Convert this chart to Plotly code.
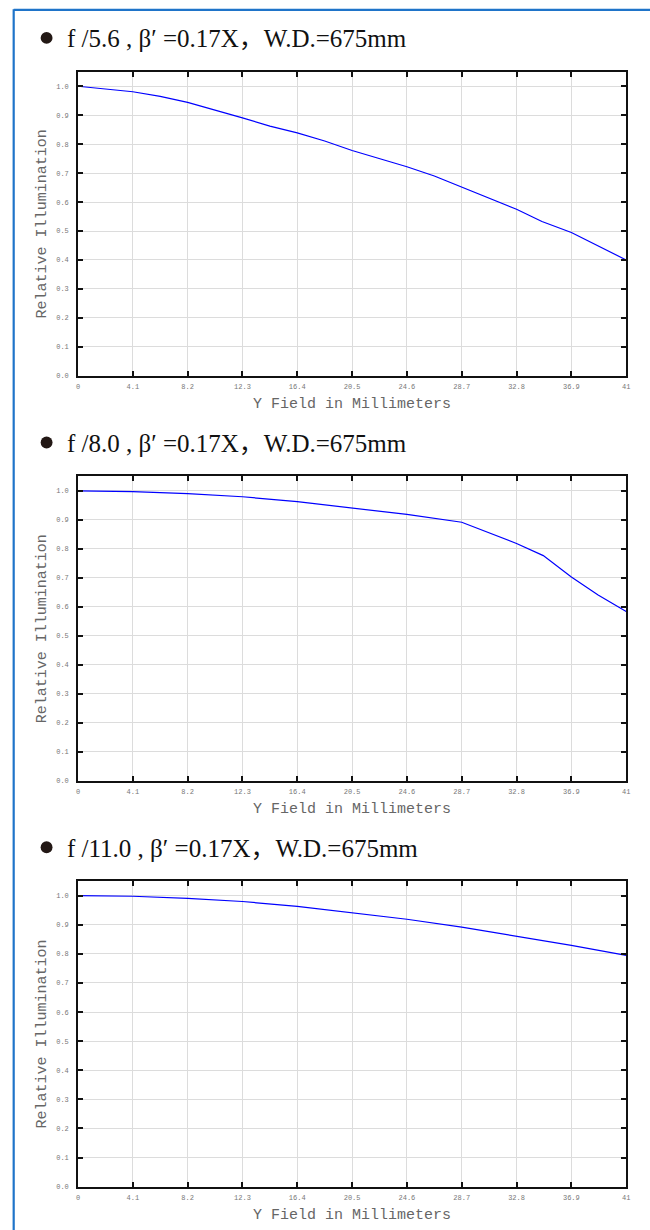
import plotly.graph_objects as go

W, H = 650, 1230

# ---------------- data ----------------
titles = [
    "f /5.6 , β′ =0.17X，W.D.=675mm",
    "f /8.0 , β′ =0.17X，W.D.=675mm",
    "f /11.0 , β′ =0.17X，W.D.=675mm",
]

x_f56 = [0, 4.1, 6.15, 8.2, 12.3, 14.35, 16.4, 18.45, 20.5, 24.6, 26.65, 28.7, 32.8, 34.7, 36.9, 41]
y_f56 = [1.000, 0.981, 0.965, 0.944, 0.891, 0.862, 0.839, 0.811, 0.778, 0.722, 0.690, 0.652, 0.575, 0.533, 0.495, 0.400]

x_f80 = [0, 4.1, 8.2, 12.3, 16.4, 20.5, 24.6, 28.7, 32.8, 34.8, 36.9, 38.9, 41]
y_f80 = [1.000, 0.998, 0.991, 0.980, 0.963, 0.942, 0.919, 0.892, 0.819, 0.777, 0.703, 0.641, 0.584]

x_f110 = [0, 4.1, 8.2, 12.3, 16.4, 20.5, 24.6, 28.7, 32.8, 36.9, 41]
y_f110 = [1.000, 0.998, 0.991, 0.980, 0.963, 0.942, 0.919, 0.892, 0.861, 0.829, 0.795]

x_tick_vals = [0, 4.1, 8.2, 12.3, 16.4, 20.5, 24.6, 28.7, 32.8, 36.9, 41]
x_tick_text = ["0", "4.1", "8.2", "12.3", "16.4", "20.5", "24.6", "28.7", "32.8", "36.9", "41"]
y_tick_vals = [0.0, 0.1, 0.2, 0.3, 0.4, 0.5, 0.6, 0.7, 0.8, 0.9, 1.0]

x_title = "Y Field in Millimeters"
y_title = "Relative Illumination"

series = [(x_f56, y_f56), (x_f80, y_f80), (x_f110, y_f110)]

# ---------------- layout geometry (pixels) ----------------
plot_left, plot_right = 76.7, 630.0
panels = [(72.0, 377.0), (478.0, 783.5), (884.0, 1190.5)]  # (top, bottom)


def px(v):
    return v / W


def py(v):
    return 1 - v / H


fig = go.Figure()
annotations = []
shapes = []

mono = "Liberation Mono, Courier New, monospace"
serif = "Liberation Serif, Times New Roman, Noto Sans CJK SC, serif"

for i, ((xs, ys), (top, bot), title) in enumerate(zip(series, panels, titles)):
    k = "" if i == 0 else str(i + 1)
    fig.add_trace(go.Scatter(
        x=xs, y=ys, mode="lines",
        line=dict(color="#0000ff", width=1.2),
        xaxis="x" + k, yaxis="y" + k, showlegend=False,
        hoverinfo="skip",
    ))
    common = dict(
        showline=True, linecolor="#111111", linewidth=1.5,
        mirror="ticks", ticks="inside", ticklen=5, tickwidth=1.5, tickcolor="#111111",
        showgrid=True, gridcolor="#dcdcdc", gridwidth=1,
        zeroline=False,
        tickfont=dict(family=mono, size=7, color="#777777"),
    )
    fig.update_layout(**{
        "xaxis" + k: dict(
            domain=[px(plot_left), px(plot_right)], anchor="y" + k,
            range=[0, 41], tickvals=x_tick_vals, ticktext=x_tick_text,
            ticklabelstandoff=3, **common),
        "yaxis" + k: dict(
            domain=[py(bot), py(top)], anchor="x" + k,
            range=[0, 1.05], tickvals=y_tick_vals, tickformat=".1f",
            ticklabelstandoff=6, **common),
    })
    # panel title
    annotations.append(dict(
        x=px(64), y=py(top - 33), xref="paper", yref="paper",
        xanchor="left", yanchor="middle", showarrow=False,
        text=title, font=dict(family=serif, size=25, color="#111111"),
    ))
    shapes.append(dict(
        type="circle", xref="paper", yref="paper",
        x0=px(39), x1=px(51), y0=py(top - 34 + 6), y1=py(top - 34 - 6),
        fillcolor="#231815", line=dict(width=0),
    ))
    # axis titles
    annotations.append(dict(
        x=px((plot_left + plot_right) / 2), y=py(bot + 29), xref="paper", yref="paper",
        xanchor="center", yanchor="middle", showarrow=False,
        text=x_title, font=dict(family=mono, size=15, color="#666666"),
    ))
    annotations.append(dict(
        x=px(41), y=py((top + bot) / 2), xref="paper", yref="paper",
        xanchor="center", yanchor="middle", showarrow=False, textangle=-90,
        text=y_title, font=dict(family=mono, size=15, color="#666666"),
    ))

# blue page frame
shapes.append(dict(type="line", xref="paper", yref="paper",
                   x0=px(11.8), x1=px(11.8), y0=py(9.3), y1=py(1240),
                   line=dict(color="#1f74c9", width=2.2)))
shapes.append(dict(type="line", xref="paper", yref="paper",
                   x0=px(11.8), x1=px(660), y0=py(10), y1=py(10),
                   line=dict(color="#1f74c9", width=2.2)))

fig.update_layout(
    width=W, height=H,
    margin=dict(l=0, r=0, t=0, b=0),
    paper_bgcolor="white", plot_bgcolor="white",
    annotations=annotations, shapes=shapes,
    showlegend=False,
)

fig.write_html("out.html",
               config={"displayModeBar": False},
               post_script="document.body.style.margin='0';document.body.style.overflow='hidden';")
